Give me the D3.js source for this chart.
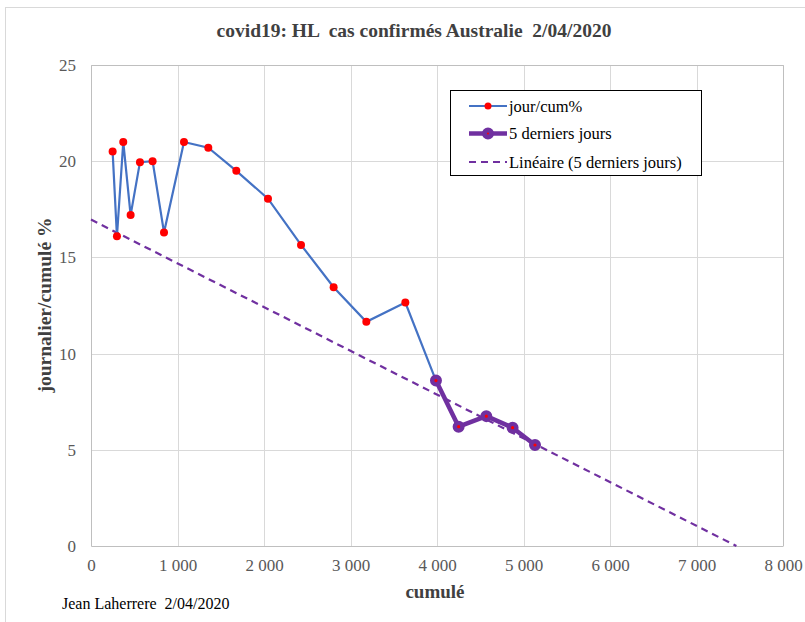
<!DOCTYPE html>
<html>
<head>
<meta charset="utf-8">
<script src="https://cdn.jsdelivr.net/npm/d3@7"></script>
<style>
  body { margin: 0; background: #fff; }
  svg { display: block; }
  svg text { font-family: "Liberation Serif", "Times New Roman", serif; }
</style>
</head>
<body>
<div id="chart"></div>
<script>
// cumulated cases (x) and daily/cumulated % (y)
const cumule = [250, 300, 373, 458, 566, 712, 844, 1075, 1356, 1680, 2046, 2428, 2805, 3183, 3634, 3988, 4250, 4570, 4874, 5133];
const jourCum = [20.5, 16.1, 21.0, 17.2, 19.95, 20.0, 16.3, 21.0, 20.7, 19.5, 18.05, 15.65, 13.45, 11.65, 12.65, 8.6, 6.2, 6.75, 6.15, 5.25];
const nLast = 5;
const xTicks = [0, 1000, 2000, 3000, 4000, 5000, 6000, 7000, 8000];
const yTicks = [0, 5, 10, 15, 20, 25];
const legendLabels = ["jour/cum%", "5 derniers jours", "Linéaire (5 derniers jours)"];

const W = 805, H = 622;
const margin = { top: 65, right: 22, bottom: 76, left: 91 };
const width = W - margin.left - margin.right,
  height = H - margin.top - margin.bottom;

const blue = "#4472c4", purple = "#7030a0";
const serif = "Liberation Serif, Times New Roman, serif";

const svg = d3.select("#chart").append("svg")
  .attr("width", W).attr("height", H);

// outer chart border
svg.append("rect")
  .attr("x", 5.5).attr("y", 7.5)
  .attr("width", W + 10).attr("height", H + 10)
  .attr("fill", "none").attr("stroke", "#d9d9d9");

const g = svg.append("g")
  .attr("transform", "translate(" + margin.left + "," + margin.top + ")");

const x = d3.scaleLinear().domain([0, 8000]).range([0, width]);
const y = d3.scaleLinear().domain([0, 25]).range([height, 0]);

// gridlines
g.selectAll(".hgrid").data(yTicks.slice(1)).join("line")
  .attr("x1", 0).attr("x2", width)
  .attr("y1", d => Math.round(y(d)) + 0.5).attr("y2", d => Math.round(y(d)) + 0.5)
  .attr("stroke", "#d9d9d9");
g.selectAll(".vgrid").data(xTicks.slice(1)).join("line")
  .attr("x1", d => Math.round(x(d)) + 0.5).attr("x2", d => Math.round(x(d)) + 0.5)
  .attr("y1", 0).attr("y2", height)
  .attr("stroke", "#d9d9d9");

// axes
const xAxis = g.append("g")
  .attr("transform", "translate(0," + height + ")")
  .call(d3.axisBottom(x).tickValues(xTicks).tickSize(0).tickPadding(13)
    .tickFormat(d => d3.format(",")(d).replace(",", " ")));
const yAxis = g.append("g")
  .call(d3.axisLeft(y).tickValues(yTicks).tickSize(0).tickPadding(15));
[xAxis, yAxis].forEach(a => {
  a.attr("font-family", serif);
  a.select(".domain").attr("stroke", "#bfbfbf");
  a.selectAll("text").attr("font-family", serif)
    .attr("font-size", 17).attr("fill", "#595959");
});

// linear trendline on last 5 points (least squares)
const lx = cumule.slice(-nLast), ly = jourCum.slice(-nLast);
const mx = d3.mean(lx), my = d3.mean(ly);
const slope = d3.sum(lx, (v, i) => (v - mx) * (ly[i] - my)) / d3.sum(lx, v => (v - mx) * (v - mx));
const intercept = my - slope * mx;
const xEnd = -intercept / slope;
g.append("line")
  .attr("x1", x(0)).attr("y1", y(intercept))
  .attr("x2", x(xEnd)).attr("y2", y(0))
  .attr("stroke", purple).attr("stroke-width", 2.2)
  .attr("stroke-dasharray", "7,5");

const pts = cumule.map((c, i) => ({ x: c, y: jourCum[i] }));
const line = d3.line().x(d => x(d.x)).y(d => y(d.y));

g.append("path").datum(pts)
  .attr("d", line).attr("fill", "none")
  .attr("stroke", blue).attr("stroke-width", 2.2);
g.selectAll(".dot").data(pts).join("circle")
  .attr("cx", d => x(d.x)).attr("cy", d => y(d.y)).attr("r", 4)
  .attr("fill", "#ff0000");

const last = pts.slice(-nLast);
g.append("path").datum(last)
  .attr("d", line).attr("fill", "none")
  .attr("stroke", purple).attr("stroke-width", 4.5).attr("stroke-linejoin", "round");
g.selectAll(".big").data(last).join("circle")
  .attr("cx", d => x(d.x)).attr("cy", d => y(d.y)).attr("r", 3.8)
  .attr("fill", "#ff0000").attr("stroke", purple).attr("stroke-width", 4.4);

// plot area border (top/right)
g.append("path")
  .attr("d", "M0.5,0.5H" + (width + 0.5) + "V" + height)
  .attr("fill", "none").attr("stroke", "#bfbfbf");

// legend
const leg = svg.append("g").attr("transform", "translate(450,90)");
leg.append("rect").attr("x", 0.5).attr("y", 0.5).attr("width", 251).attr("height", 85)
  .attr("fill", "#fff").attr("stroke", "#000");
const rows = leg.selectAll(".row").data(legendLabels).join("g")
  .attr("transform", (d, i) => "translate(0," + [16, 43.5, 72][i] + ")");
rows.append("text").attr("x", 59).attr("y", 5.5).attr("font-size", 16.5)
  .attr("fill", "#000").text(d => d);
rows.each(function (d, i) {
  const r = d3.select(this);
  if (i === 0) {
    r.append("line").attr("x1", 19).attr("x2", 57).attr("stroke", blue).attr("stroke-width", 2);
    r.append("circle").attr("cx", 38).attr("r", 3.5).attr("fill", "#ff0000");
  } else if (i === 1) {
    r.append("line").attr("x1", 19).attr("x2", 57).attr("stroke", purple).attr("stroke-width", 4.5);
    r.append("circle").attr("cx", 38).attr("r", 3.5).attr("fill", "#ff0000")
      .attr("stroke", purple).attr("stroke-width", 5);
  } else {
    r.append("line").attr("x1", 19).attr("x2", 57).attr("stroke", purple)
      .attr("stroke-width", 2).attr("stroke-dasharray", "7,5");
  }
});

// titles
svg.append("text").attr("x", 414).attr("y", 37).attr("text-anchor", "middle")
  .attr("font-size", 19.5).attr("font-weight", "bold").attr("fill", "#404040")
  .attr("xml:space", "preserve")
  .text("covid19: HL  cas confirmés Australie  2/04/2020");
svg.append("text").attr("transform", "translate(51,305) rotate(-90)")
  .attr("text-anchor", "middle").attr("font-size", 19.5).attr("font-weight", "bold")
  .attr("fill", "#404040").text("journalier/cumulé %");
svg.append("text").attr("x", 435).attr("y", 598).attr("text-anchor", "middle")
  .attr("font-size", 19).attr("font-weight", "bold").attr("fill", "#404040")
  .text("cumulé");
svg.append("text").attr("x", 62).attr("y", 609).attr("font-size", 16)
  .attr("fill", "#000").attr("xml:space", "preserve")
  .text("Jean Laherrere  2/04/2020");
</script>
</body>
</html>
